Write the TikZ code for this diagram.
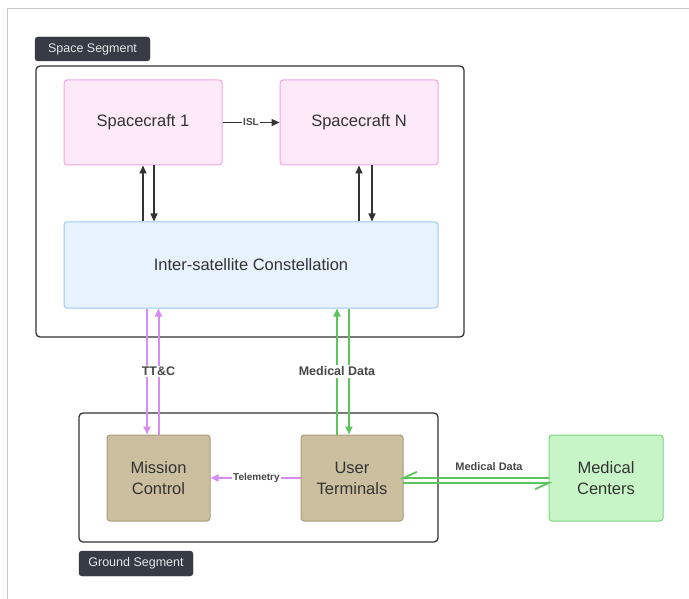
\documentclass[tikz,border=0pt]{standalone}
\usepackage{fontspec}
\setmainfont{Liberation Sans}
\usetikzlibrary{arrows.meta,calc}

\definecolor{ink}{HTML}{333333}
\definecolor{framegray}{HTML}{C8C8C8}
\definecolor{tagfill}{HTML}{363B45}
\definecolor{tagtext}{HTML}{E4E6EA}
\definecolor{pinkfill}{HTML}{FDE9F8}
\definecolor{pinkline}{HTML}{F1A8E4}
\definecolor{bluefill}{HTML}{E8F2FD}
\definecolor{blueline}{HTML}{9CC8F2}
\definecolor{tanfill}{HTML}{CBBF9F}
\definecolor{tanline}{HTML}{A99C7B}
\definecolor{greenfill}{HTML}{C7F5C7}
\definecolor{greenline}{HTML}{80D480}
\definecolor{violet}{HTML}{D68CF2}
\definecolor{linkgreen}{HTML}{5CC45C}

\tikzset{
  block/.style={draw, rounded corners=3pt, line width=1pt, align=center,
    inner sep=0pt, text=ink, font=\fontsize{16.5}{20}\selectfont},
  craft/.style={block, fill=pinkfill, draw=pinkline,
    minimum width=158pt, minimum height=85pt},
  constel/.style={block, fill=bluefill, draw=blueline,
    minimum width=374pt, minimum height=86pt},
  ground/.style={block, fill=tanfill, draw=tanline,
    minimum width=103pt, minimum height=86pt},
  clinic/.style={block, fill=greenfill, draw=greenline,
    minimum width=114pt, minimum height=86pt},
  segment/.style={draw=ink, rounded corners=4pt, line width=1.3pt, inner sep=0pt},
  segtag/.style={fill=tagfill, draw=black!80, rounded corners=3pt, inner sep=0pt,
    text=tagtext, font=\fontsize{12.5}{15}\selectfont},
  darr/.style={draw=ink, line width=1.4pt, -{Triangle[length=8pt,width=7pt]}},
  varr/.style={draw=violet, line width=2pt, -{Triangle[length=8pt,width=7pt]}},
  garr/.style={draw=linkgreen, line width=2pt, -{Triangle[length=8pt,width=7pt]}},
  hline/.style={draw=linkgreen, line width=1.8pt, line cap=round},
  lbl/.style={fill=white, inner sep=1.5pt, text=ink!90, font=\bfseries\fontsize{12.5}{15}\selectfont},
  smalllbl/.style={fill=white, inner sep=1pt, text=ink!90, font=\bfseries\fontsize{10}{12}\selectfont},
}

\begin{document}
\begin{tikzpicture}[x=1pt, y=-1pt]
  \useasboundingbox (0,0) rectangle (689,599);
  \fill[white] (0,0) rectangle (689,599);

  % page frame
  \draw[framegray, line width=1pt] (7,599) -- (7,9) -- (689,9);

  % segment containers
  \node[segment, minimum width=428pt, minimum height=271pt] (spaceseg) at (250,201.5) {};
  \node[segment, minimum width=359pt, minimum height=129pt] (groundseg) at (258.5,477.5) {};
  \node[segtag, minimum width=115pt, minimum height=24pt] (spacetag) at (92.5,49) {Space Segment};
  \node[segtag, minimum width=114pt, minimum height=25pt] (groundtag) at (136,563.5) {Ground Segment};

  % space segment blocks
  \node[craft] (sc1) at (143,122.5) {Spacecraft 1};
  \node[craft] (scn) at (359,122.5) {Spacecraft N};
  \node[constel] (cons) at (251,265) {Inter-satellite Constellation};

  % ground segment blocks
  \node[ground] (mc) at (158.5,478) {Mission\\[1pt]Control};
  \node[ground, minimum width=102pt] (ut) at (352,478) {User\\[1pt]Terminals};
  \node[clinic] (med) at (606,478) {Medical\\[1pt]Centers};

  % inter-satellite link
  \draw[darr] (sc1.east) -- node[smalllbl, pos=0.5] {ISL} (scn.west);

  % spacecraft <-> constellation
  \draw[darr] (sc1.south |- cons.north) -- (sc1.south);
  \draw[darr] ([xshift=11pt]sc1.south) -- ([xshift=11pt]sc1.south |- cons.north);
  \draw[darr] (scn.south |- cons.north) -- (scn.south);
  \draw[darr] ([xshift=13pt]scn.south) -- ([xshift=13pt]scn.south |- cons.north);

  % TT&C uplink / downlink
  \draw[varr] ([xshift=-11.5pt]mc.north |- cons.south) -- ([xshift=-11.5pt]mc.north);
  \draw[varr] (mc.north) -- node[lbl, pos=0.5] {TT\&C} (mc.north |- cons.south);

  % medical data via satellite
  \draw[garr] ([xshift=-3pt]ut.north |- cons.south) -- ([xshift=-3pt]ut.north);
  \draw[garr] ([xshift=-15pt]ut.north) -- node[lbl, pos=0.5] {Medical Data} ([xshift=-15pt]ut.north |- cons.south);

  % telemetry
  \draw[varr] (ut.west) -- node[smalllbl, pos=0.49] {Telemetry} (mc.east);

  % terrestrial medical data link, drawn as two half-headed (harpoon) lines
  \draw[hline] ([xshift=13pt, yshift=6pt]ut.east) -- (ut.east) -- (med.west);
  \draw[hline] (ut.east |- 0,483) -- (med.west |- 0,483) -- ++(-13,6);
  \node[smalllbl, fill=none, font=\bfseries\fontsize{11}{13}\selectfont]
    (medlbl) at (489,467) {Medical Data};
\end{tikzpicture}
\end{document}
